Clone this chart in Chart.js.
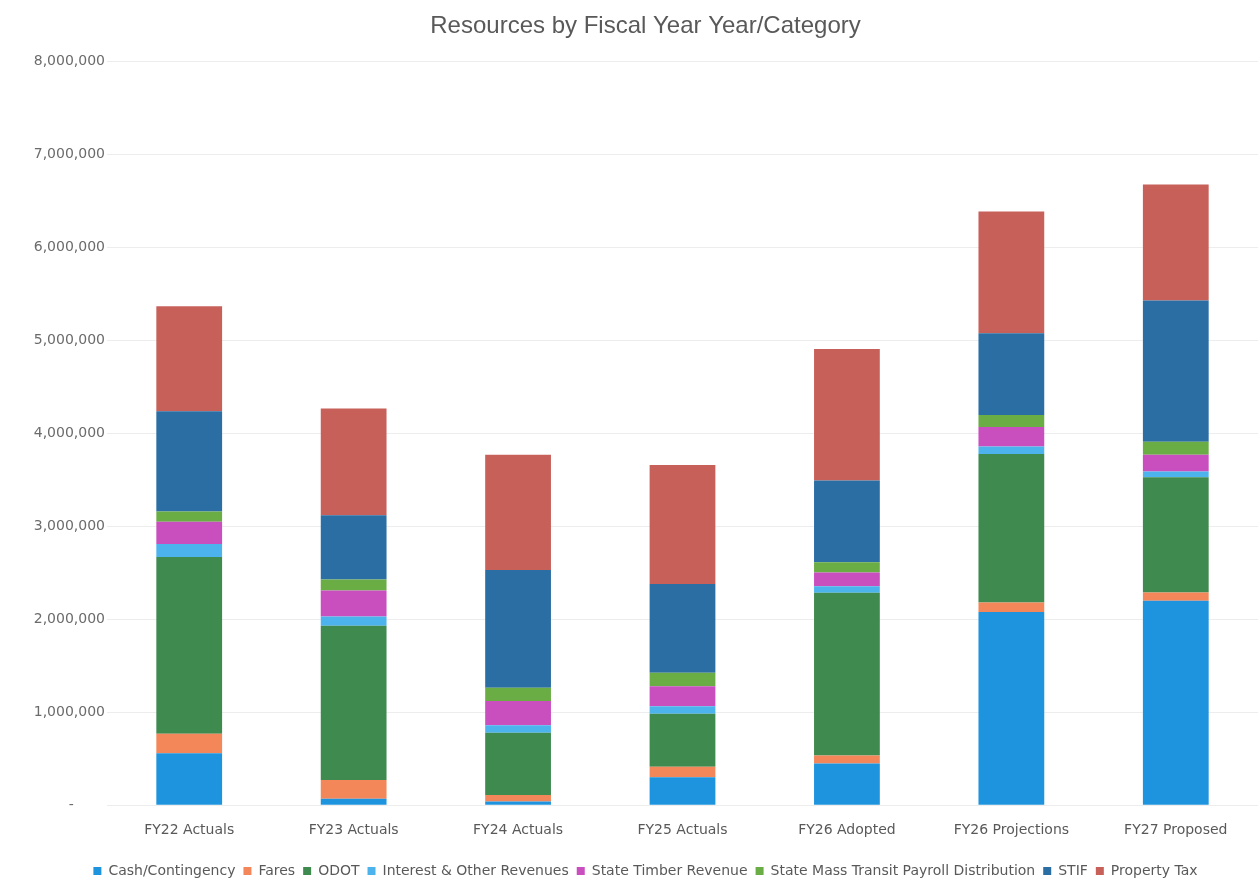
<!DOCTYPE html>
<html>
<head>
<meta charset="utf-8">
<script src="https://cdn.jsdelivr.net/npm/chart.js@4/dist/chart.umd.min.js"></script>
<style>
  html, body { margin: 0; padding: 0; background: #fff; }
  #wrap { width: 1260px; height: 884px; }
</style>
</head>
<body>
<div id="wrap"><canvas id="grafico"></canvas></div>
<script>
const anos = ["FY22 Actuals", "FY23 Actuals", "FY24 Actuals", "FY25 Actuals", "FY26 Adopted", "FY26 Projections", "FY27 Proposed"];

const caixa      = [560000, 70000, 40000, 300000, 450000, 2080000, 2200000];
const tarifas    = [210000, 200000, 70000, 115000, 85000, 100000, 90000];
const odot       = [1900000, 1660000, 670000, 570000, 1750000, 1600000, 1240000];
const juros      = [140000, 100000, 80000, 80000, 70000, 80000, 60000];
const madeira    = [240000, 280000, 260000, 215000, 150000, 210000, 180000];
const folha      = [110000, 120000, 145000, 145000, 110000, 130000, 140000];
const stif       = [1080000, 690000, 1265000, 955000, 880000, 880000, 1520000];
const impostos   = [1130000, 1150000, 1240000, 1280000, 1415000, 1310000, 1250000];

const ticksY = [0, 1000000, 2000000, 3000000, 4000000, 5000000, 6000000, 7000000, 8000000];

const series = [
  { label: "Cash/Contingency", data: caixa, cor: "#1f94de" },
  { label: "Fares", data: tarifas, cor: "#f3875a" },
  { label: "ODOT", data: odot, cor: "#3f8a4f" },
  { label: "Interest & Other Revenues", data: juros, cor: "#4db3ec" },
  { label: "State Timber Revenue", data: madeira, cor: "#c94fbf" },
  { label: "State Mass Transit Payroll Distribution", data: folha, cor: "#6aad45" },
  { label: "STIF", data: stif, cor: "#2b6ea4" },
  { label: "Property Tax", data: impostos, cor: "#c8605a" }
];

const fonte = "'Liberation Sans', Arial, sans-serif";
const fonteLarga = "'DejaVu Sans', sans-serif";

new Chart(document.getElementById("grafico"), {
  type: "bar",
  data: {
    labels: anos,
    datasets: series.map(s => ({
      label: s.label,
      data: s.data,
      backgroundColor: s.cor,
      borderWidth: 0,
      categoryPercentage: 1,
      barPercentage: 0.4
    }))
  },
  options: {
    responsive: true,
    maintainAspectRatio: false,
    animation: false,
    layout: { padding: { left: 33, right: 2, top: 0, bottom: -4 } },
    plugins: {
      title: {
        display: true,
        text: "Resources by Fiscal Year Year/Category",
        color: "#595959",
        font: { family: fonte, size: 24, weight: "normal" },
        padding: { top: 12, bottom: 21 }
      },
      legend: {
        position: "bottom",
        labels: {
          color: "#595959",
          font: { family: fonteLarga, size: 14 },
          boxWidth: 8,
          boxHeight: 8,
          padding: 8
        }
      },
      tooltip: { enabled: false }
    },
    scales: {
      x: {
        stacked: true,
        grid: { display: false },
        border: { display: false },
        afterFit: axis => { axis.height += 8; },
        ticks: { color: "#595959", font: { family: fonteLarga, size: 14 }, padding: 9 }
      },
      y: {
        stacked: true,
        min: 0,
        max: 8000000,
        afterBuildTicks: axis => { axis.ticks = ticksY.map(v => ({ value: v })); },
        afterFit: axis => { axis.width = 74; },
        grid: { color: "rgba(0,0,0,0.07)", drawTicks: false },
        border: { display: false },
        ticks: {
          color: "#6b6b6b",
          font: { family: fonteLarga, size: 14 },
          padding: 2,
          callback: v => v === 0 ? "-       " : v.toLocaleString("en-US")
        }
      }
    }
  }
});
</script>
</body>
</html>
